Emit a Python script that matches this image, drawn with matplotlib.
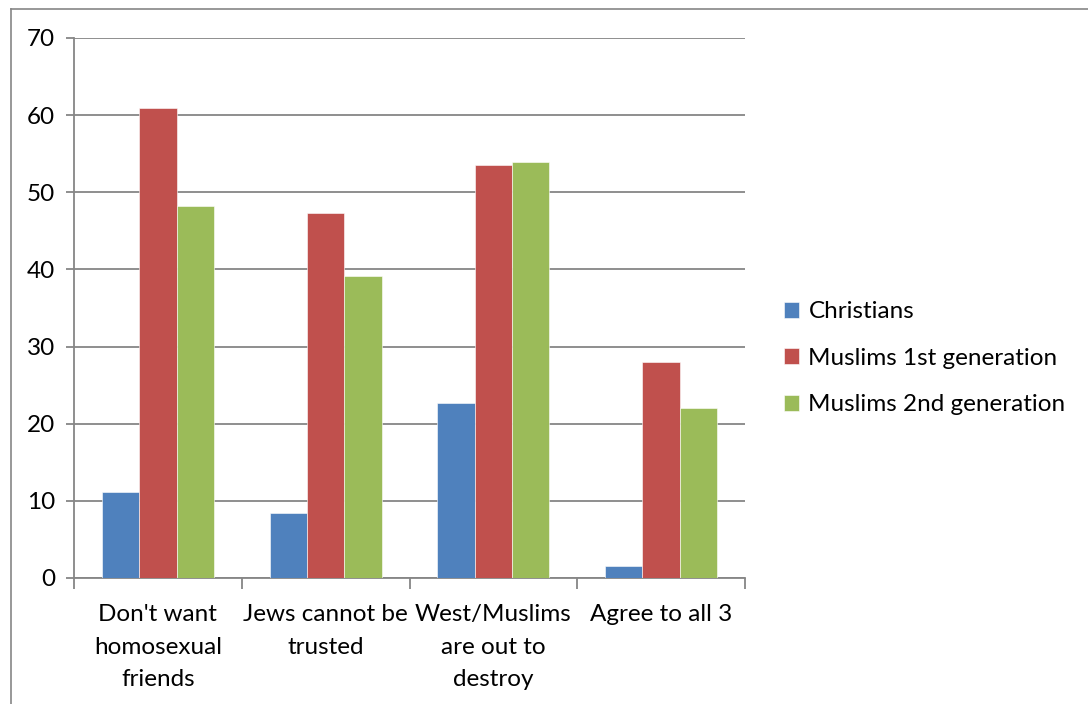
import matplotlib
matplotlib.use('Agg')
import matplotlib.pyplot as plt
from matplotlib.lines import Line2D
import numpy as np

categories = ["Don't want\nhomosexual\nfriends", "Jews cannot be\ntrusted",
              "West/Muslims\nare out to\ndestroy", "Agree to all 3"]
series_names = ['Christians', 'Muslims 1st generation', 'Muslims 2nd generation']
christians = [11.1, 8.4, 22.7, 1.5]
muslims_1st = [60.9, 47.3, 53.6, 28.0]
muslims_2nd = [48.2, 39.1, 53.9, 22.1]
colors = ['#4F81BD', '#C0504D', '#9BBB59']

plt.rcParams['font.family'] = ['Lato', 'DejaVu Sans']
fs = 17.5

fig = plt.figure(figsize=(10.88, 7.04), dpi=100)
ax = fig.add_axes([74 / 1088, 1 - 578 / 704, (745 - 74) / 1088, (578 - 38) / 704])

x = np.arange(len(categories))
w = 1 / 4.5
for i, (vals, name) in enumerate(zip([christians, muslims_1st, muslims_2nd], series_names)):
  ax.bar(x + (i - 1) * w, vals, w, color=colors[i], label=name, zorder=3,
         edgecolor='white', linewidth=0.4)

grid_c = '#868686'
ax.set_ylim(0, 70)
ax.set_xlim(-0.5, len(categories) - 0.5)
ax.set_yticks(range(0, 71, 10))
ax.yaxis.grid(True, color=grid_c, linewidth=1.3, zorder=0)
ax.set_xticks(np.arange(-0.5, len(categories), 1))
ax.set_xticklabels([])
ax.set_xticks(x, minor=True)
ax.set_xticklabels(categories, minor=True, fontsize=fs, linespacing=1.7)
ax.tick_params(axis='x', which='minor', length=0, pad=18.5)
ax.tick_params(axis='x', which='major', length=8, color=grid_c, width=1.3)
ax.tick_params(axis='y', length=6, color=grid_c, width=1.3, labelsize=fs, pad=7.5)
for s in ['top', 'right']:
  ax.spines[s].set_visible(False)
for s in ['left', 'bottom']:
  ax.spines[s].set_color(grid_c)
  ax.spines[s].set_linewidth(1.3)

ax.legend(loc='center left', bbox_to_anchor=(1.025, 0.407), frameon=False, fontsize=fs,
          handlelength=0.62, handleheight=0.62, handletextpad=0.4, labelspacing=1.05)

fig.add_artist(Line2D([10.5 / 1088, 10.5 / 1088], [0, 1 - 8.5 / 704], color=grid_c, linewidth=1.2))
fig.add_artist(Line2D([10.5 / 1088, 1], [1 - 8.5 / 704, 1 - 8.5 / 704], color=grid_c, linewidth=1.2))

fig.savefig('out.png', dpi=100)
